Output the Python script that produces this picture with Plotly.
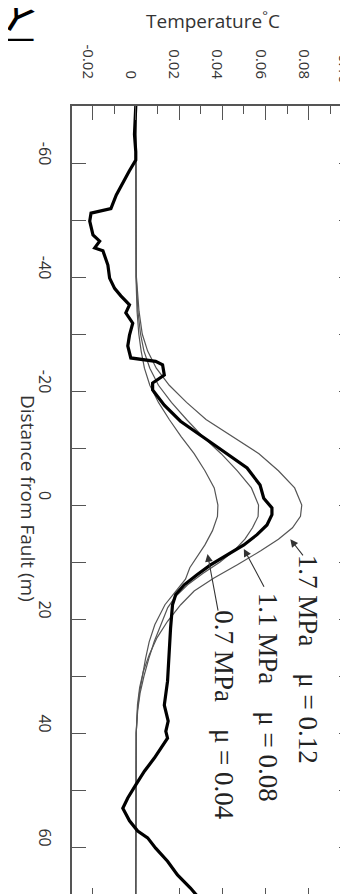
import plotly.graph_objects as go

# ---------------- data ----------------
obs_dist = [-70, -67, -65, -62, -60.5, -58.6, -55.6, -54.4, -52, -51.2, -49.8, -47.4, -46.3,
            -45.1, -44.6, -42.1, -39.8, -38, -36.7, -35.1, -33.7, -31.9, -29.8, -27.9, -25.8,
            -25.2, -24.6, -22.8, -21.4, -20.2, -17.5, -14.7, -11.4, -8.6, -6.5, -3.5, -1.2,
            0.5, 1.7, 3.5, 5.2, 7.0, 8.7, 10.5, 12.2, 14.0, 15.7, 17.5, 21.6, 26.3, 30.9,
            35.1, 37.9, 39.7, 40.9, 44.4, 46.7, 49.1, 51.4, 53.2, 55.4, 57.2, 58.4, 60.2,
            62.5, 64.9, 67.2, 69.3, 70]
obs_temp = [0.0, -0.0005, -0.0006, 0.0, 0.0, -0.003, -0.007, -0.009, -0.0115, -0.0207, -0.0213,
            -0.0198, -0.0167, -0.019, -0.0152, -0.0129, -0.0121, -0.0098, -0.0069, -0.0029,
            -0.0046, -0.0014, -0.0029, -0.0037, -0.0023, 0.0092, 0.0124, 0.0132, 0.0078,
            0.0078, 0.0132, 0.0207, 0.0331, 0.0437, 0.0515, 0.0575, 0.0592, 0.063, 0.063,
            0.0607, 0.0561, 0.050, 0.0423, 0.0346, 0.0285, 0.0224, 0.0185, 0.017, 0.0161,
            0.0155, 0.0147, 0.0132, 0.0150, 0.0139, 0.0147, 0.0086, 0.004, 0.0, -0.0037,
            -0.006, -0.0029, 0.0009, 0.0055, 0.0092, 0.0147, 0.0193, 0.0253, 0.030, 0.031]

m07_dist = [-70, -40, -34, -30, -27, -24, -21, -18, -15, -12, -9, -6, -3, 0, 2, 4.5, 7, 9, 11,
            13, 15.5, 17.5, 21, 24, 27, 30, 33, 36, 40, 70]
m07_temp = [0, 0.0001, 0.0006, 0.0014, 0.0025, 0.004, 0.0065, 0.0105, 0.0155, 0.021, 0.027,
            0.032, 0.0363, 0.038, 0.0378, 0.0355, 0.032, 0.0285, 0.025, 0.023, 0.0175,
            0.0135, 0.0088, 0.0062, 0.0045, 0.003, 0.0017, 0.0008, 0.0002, 0]

m11_dist = [-70, -40, -34, -30, -27, -24, -21, -18, -15, -12, -9, -6, -3, 0, 2, 4, 6, 8, 10,
            12, 14, 16, 18, 21, 24, 27, 30, 33, 36, 40, 70]
m11_temp = [0, 0.0002, 0.001, 0.0022, 0.0038, 0.0065, 0.0105, 0.0165, 0.0235, 0.031, 0.0395,
            0.047, 0.0535, 0.0568, 0.0566, 0.054, 0.0505, 0.0455, 0.039, 0.031, 0.024,
            0.0185, 0.0148, 0.0115, 0.0085, 0.006, 0.0038, 0.002, 0.0009, 0.0002, 0]

m17_dist = [-70, -40, -34, -30, -27, -24, -21, -18, -15, -12, -9, -6, -3, 0, 2, 4, 6, 8,
            10.5, 12.8, 15.1, 17.5, 20.4, 23.3, 26.3, 29.2, 32, 35, 40, 70]
m17_temp = [0, 0.0003, 0.0015, 0.003, 0.0055, 0.0095, 0.0155, 0.0235, 0.0325, 0.045, 0.057,
            0.066, 0.0735, 0.0768, 0.0762, 0.0725, 0.066, 0.058, 0.047, 0.0362, 0.027,
            0.0208, 0.0147, 0.0098, 0.0062, 0.0035, 0.0018, 0.0008, 0.0002, 0]

temp_ticks = [-0.02, 0, 0.02, 0.04, 0.06, 0.08, 0.10]
temp_ticktext = ["-0.02", "0", "0.02", "0.04", "0.06", "0.08", ""]
edge_tick_text = "0.10"
dist_ticks = [-60, -40, -20, 0, 20, 40, 60]
dist_ticktext = ["-60", "-40", "-20", "0", "20", "40", "60"]

NB = "\u00a0"
labels = ["1.7 MPa" + NB * 4 + "\u03bc = 0.12",
          "1.1 MPa" + NB * 4 + "\u03bc = 0.08",
          "0.7 MPa" + NB * 4 + "\u03bc = 0.04"]
label_pos = [(0.0797, 27.0), (0.0613, 33.7), (0.0408, 36.9)]
arrow_head = [(0.0715, 6.0), (0.050, 7.7), (0.0332, 8.6)]
arrow_tail = [(0.0779, 9.1), (0.0597, 14.6), (0.0382, 18.8)]

# ---------------- figure ----------------
W, H = 348, 894
L, R, T, B = 64, 3, 98, 0
pw, ph = W - L - R, H - T - B

def px_x(x):
    return (x - L) / pw

def px_y(y):
    return (H - B - y) / ph

GRAY = "#555555"
TICKFONT_X = dict(family="Open Sans", size=15, color="#333")
fig = go.Figure()
for d, t in [(m07_dist, m07_temp), (m11_dist, m11_temp), (m17_dist, m17_temp)]:
    fig.add_trace(go.Scatter(x=t, y=d, mode="lines", line=dict(color=GRAY, width=1.2),
                             showlegend=False, hoverinfo="skip"))
fig.add_trace(go.Scatter(x=obs_temp, y=obs_dist, mode="lines",
                         line=dict(color="black", width=3.2), showlegend=False))

anns = []
for txt, (x, y) in zip(labels, label_pos):
    anns.append(dict(x=x, y=y, xref="x", yref="y", text=txt, showarrow=False, textangle=90,
                     xanchor="center", yanchor="middle",
                     font=dict(family="Liberation Serif", size=27, color="#222")))
for (hx, hy), (tx, ty) in zip(arrow_head, arrow_tail):
    anns.append(dict(x=hx, y=hy, ax=tx, ay=ty, xref="x", yref="y", axref="x", ayref="y",
                     text="", showarrow=True, arrowhead=2, arrowsize=1.4, arrowwidth=1.1,
                     arrowcolor="#333"))
# tick label at the very edge of the axis (cut by the picture border)
anns.append(dict(x=px_x(337), y=px_y(61), xref="paper", yref="paper", text=edge_tick_text,
                 showarrow=False, textangle=90, xanchor="center", yanchor="middle",
                 font=TICKFONT_X))
anns.append(dict(x=px_x(205), y=px_y(12), xref="paper", yref="paper",
                 xanchor="center", yanchor="middle",
                 text="Temperature<sup>\u00b0</sup>C", showarrow=False,
                 font=dict(family="Open Sans", size=19, color="#333")))
anns.append(dict(x=px_x(20), y=px_y(490), xref="paper", yref="paper",
                 xanchor="center", yanchor="middle",
                 text="Distance from Fault (m)", showarrow=False, textangle=90,
                 font=dict(family="Open Sans", size=19, color="#333")))
# fragment of a large glyph cut off at the top-left corner of the scan
anns.append(dict(x=px_x(8), y=px_y(10), xref="paper", yref="paper",
                 xanchor="center", yanchor="middle", text="Y", showarrow=False,
                 textangle=32, font=dict(family="DejaVu Sans", size=40, color="black")))
anns.append(dict(x=px_x(12), y=px_y(30), xref="paper", yref="paper",
                 xanchor="center", yanchor="middle", text="\u2014", showarrow=False,
                 font=dict(family="DejaVu Sans", size=30, color="black")))

fig.update_layout(
    width=W, height=H, margin=dict(l=L, r=R, t=T, b=B, autoexpand=False),
    paper_bgcolor="white", plot_bgcolor="white", annotations=anns,
    xaxis=dict(range=[-0.0295, 0.1005], side="top", tickvals=temp_ticks, ticktext=temp_ticktext,
               tickangle=90, ticks="inside", ticklen=14, tickcolor=GRAY, tickwidth=1.3,
               ticklabelstandoff=20, ticklabelshift=-5, ticklabeloverflow="allow",
               minor=dict(dtick=0.01, tick0=0, ticks="inside", ticklen=8, tickcolor=GRAY,
                          tickwidth=1.3, showgrid=False),
               showline=True, linecolor=GRAY, linewidth=1.5, mirror="ticks",
               showgrid=False, zeroline=False, tickfont=TICKFONT_X),
    yaxis=dict(range=[69.65, -70], tickvals=dist_ticks, ticktext=dist_ticktext,
               tickangle=90, ticks="inside", ticklen=14, tickcolor=GRAY, tickwidth=1.3,
               ticklabelstandoff=12, ticklabelshift=7, ticklabeloverflow="allow",
               minor=dict(dtick=10, tick0=0, ticks="inside", ticklen=14, tickcolor=GRAY,
                          tickwidth=1.3, showgrid=False),
               showline=True, linecolor=GRAY, linewidth=1.5, mirror="ticks",
               showgrid=False, zeroline=False,
               tickfont=dict(family="Open Sans", size=16, color="#333")),
)
fig.write_html("out.html")
